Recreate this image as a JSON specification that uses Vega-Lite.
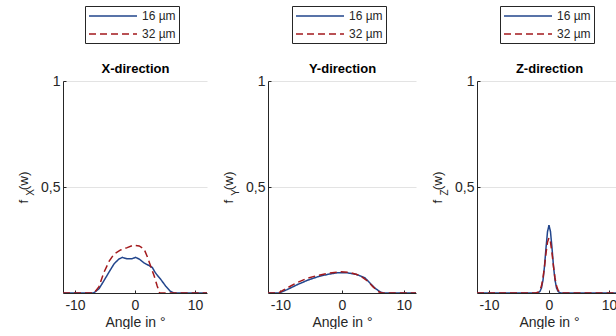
{
  "$schema": "https://vega.github.io/schema/vega-lite/v6.json",
  "padding": {"left": 16, "top": 5, "right": 0, "bottom": 0},
  "background": "white",
  "config": {
    "font": "Liberation Sans",
    "view": {"stroke": null},
    "axis": {"labelFont": "Liberation Sans", "titleFont": "Liberation Sans", "labelColor": "#262626", "titleColor": "#262626", "domainColor": "#262626", "tickColor": "#262626", "gridColor": "#e3e3e3", "labelFontSize": 14, "titleFontSize": 14, "titleFontWeight": "normal"},
    "legend": {"labelFont": "Liberation Sans", "labelFontSize": 12, "labelColor": "#262626"},
    "concat": {"spacing": 11}
  },
  "datasets": {
    "curves": [
      {"panel": "X", "series": "16 µm", "angle": -12, "value": 0},
      {"panel": "X", "series": "16 µm", "angle": -7, "value": 0},
      {"panel": "X", "series": "16 µm", "angle": -6.8, "value": 0.002},
      {"panel": "X", "series": "16 µm", "angle": -6, "value": 0.02},
      {"panel": "X", "series": "16 µm", "angle": -5.2, "value": 0.057},
      {"panel": "X", "series": "16 µm", "angle": -4.3, "value": 0.1},
      {"panel": "X", "series": "16 µm", "angle": -3.5, "value": 0.137},
      {"panel": "X", "series": "16 µm", "angle": -2.7, "value": 0.16},
      {"panel": "X", "series": "16 µm", "angle": -2.1, "value": 0.168},
      {"panel": "X", "series": "16 µm", "angle": -1.3, "value": 0.161},
      {"panel": "X", "series": "16 µm", "angle": -0.6, "value": 0.161},
      {"panel": "X", "series": "16 µm", "angle": 0.1, "value": 0.168},
      {"panel": "X", "series": "16 µm", "angle": 0.7, "value": 0.16},
      {"panel": "X", "series": "16 µm", "angle": 1.5, "value": 0.142},
      {"panel": "X", "series": "16 µm", "angle": 2.3, "value": 0.13},
      {"panel": "X", "series": "16 µm", "angle": 2.9, "value": 0.12},
      {"panel": "X", "series": "16 µm", "angle": 3.4, "value": 0.095},
      {"panel": "X", "series": "16 µm", "angle": 4.3, "value": 0.064},
      {"panel": "X", "series": "16 µm", "angle": 5.1, "value": 0.033},
      {"panel": "X", "series": "16 µm", "angle": 5.9, "value": 0.008},
      {"panel": "X", "series": "16 µm", "angle": 6.5, "value": 0},
      {"panel": "X", "series": "16 µm", "angle": 12, "value": 0},
      {"panel": "X", "series": "32 µm", "angle": -12, "value": 0},
      {"panel": "X", "series": "32 µm", "angle": -6.8, "value": 0},
      {"panel": "X", "series": "32 µm", "angle": -6, "value": 0.03},
      {"panel": "X", "series": "32 µm", "angle": -5.2, "value": 0.096},
      {"panel": "X", "series": "32 µm", "angle": -4.3, "value": 0.15},
      {"panel": "X", "series": "32 µm", "angle": -3.5, "value": 0.183},
      {"panel": "X", "series": "32 µm", "angle": -2.4, "value": 0.203},
      {"panel": "X", "series": "32 µm", "angle": -1.3, "value": 0.214},
      {"panel": "X", "series": "32 µm", "angle": -0.2, "value": 0.226},
      {"panel": "X", "series": "32 µm", "angle": 0.7, "value": 0.222},
      {"panel": "X", "series": "32 µm", "angle": 1.5, "value": 0.208},
      {"panel": "X", "series": "32 µm", "angle": 2, "value": 0.175},
      {"panel": "X", "series": "32 µm", "angle": 2.6, "value": 0.127},
      {"panel": "X", "series": "32 µm", "angle": 3.2, "value": 0.08},
      {"panel": "X", "series": "32 µm", "angle": 3.7, "value": 0.033},
      {"panel": "X", "series": "32 µm", "angle": 4.1, "value": 0},
      {"panel": "X", "series": "32 µm", "angle": 12, "value": 0},
      {"panel": "Y", "series": "16 µm", "angle": -12, "value": 0},
      {"panel": "Y", "series": "16 µm", "angle": -10.2, "value": 0},
      {"panel": "Y", "series": "16 µm", "angle": -8.9, "value": 0.016},
      {"panel": "Y", "series": "16 µm", "angle": -7.2, "value": 0.04},
      {"panel": "Y", "series": "16 µm", "angle": -5.6, "value": 0.06},
      {"panel": "Y", "series": "16 µm", "angle": -3.9, "value": 0.077},
      {"panel": "Y", "series": "16 µm", "angle": -2.3, "value": 0.088},
      {"panel": "Y", "series": "16 µm", "angle": -0.7, "value": 0.096},
      {"panel": "Y", "series": "16 µm", "angle": 0.7, "value": 0.096},
      {"panel": "Y", "series": "16 µm", "angle": 2.3, "value": 0.088},
      {"panel": "Y", "series": "16 µm", "angle": 3.7, "value": 0.072},
      {"panel": "Y", "series": "16 µm", "angle": 4.5, "value": 0.048},
      {"panel": "Y", "series": "16 µm", "angle": 5.3, "value": 0.024},
      {"panel": "Y", "series": "16 µm", "angle": 6.2, "value": 0.005},
      {"panel": "Y", "series": "16 µm", "angle": 6.7, "value": 0},
      {"panel": "Y", "series": "16 µm", "angle": 12, "value": 0},
      {"panel": "Y", "series": "32 µm", "angle": -12, "value": 0},
      {"panel": "Y", "series": "32 µm", "angle": -10.3, "value": 0},
      {"panel": "Y", "series": "32 µm", "angle": -8.9, "value": 0.024},
      {"panel": "Y", "series": "32 µm", "angle": -7.2, "value": 0.05},
      {"panel": "Y", "series": "32 µm", "angle": -5.6, "value": 0.07},
      {"panel": "Y", "series": "32 µm", "angle": -3.9, "value": 0.083},
      {"panel": "Y", "series": "32 µm", "angle": -2.3, "value": 0.093},
      {"panel": "Y", "series": "32 µm", "angle": -0.2, "value": 0.1},
      {"panel": "Y", "series": "32 µm", "angle": 1.3, "value": 0.097},
      {"panel": "Y", "series": "32 µm", "angle": 2.9, "value": 0.083},
      {"panel": "Y", "series": "32 µm", "angle": 4.2, "value": 0.055},
      {"panel": "Y", "series": "32 µm", "angle": 5.0, "value": 0.03},
      {"panel": "Y", "series": "32 µm", "angle": 5.8, "value": 0.008},
      {"panel": "Y", "series": "32 µm", "angle": 6.4, "value": 0},
      {"panel": "Y", "series": "32 µm", "angle": 12, "value": 0},
      {"panel": "Z", "series": "16 µm", "angle": -12, "value": 0},
      {"panel": "Z", "series": "16 µm", "angle": -2, "value": 0},
      {"panel": "Z", "series": "16 µm", "angle": -1.75, "value": 0.002},
      {"panel": "Z", "series": "16 µm", "angle": -1.5, "value": 0.008},
      {"panel": "Z", "series": "16 µm", "angle": -1.25, "value": 0.024},
      {"panel": "Z", "series": "16 µm", "angle": -1, "value": 0.061},
      {"panel": "Z", "series": "16 µm", "angle": -0.75, "value": 0.126},
      {"panel": "Z", "series": "16 µm", "angle": -0.5, "value": 0.212},
      {"panel": "Z", "series": "16 µm", "angle": -0.25, "value": 0.289},
      {"panel": "Z", "series": "16 µm", "angle": 0, "value": 0.32},
      {"panel": "Z", "series": "16 µm", "angle": 0.25, "value": 0.289},
      {"panel": "Z", "series": "16 µm", "angle": 0.5, "value": 0.212},
      {"panel": "Z", "series": "16 µm", "angle": 0.75, "value": 0.126},
      {"panel": "Z", "series": "16 µm", "angle": 1, "value": 0.061},
      {"panel": "Z", "series": "16 µm", "angle": 1.25, "value": 0.024},
      {"panel": "Z", "series": "16 µm", "angle": 1.5, "value": 0.008},
      {"panel": "Z", "series": "16 µm", "angle": 1.75, "value": 0.002},
      {"panel": "Z", "series": "16 µm", "angle": 2, "value": 0},
      {"panel": "Z", "series": "16 µm", "angle": 12, "value": 0},
      {"panel": "Z", "series": "32 µm", "angle": -12, "value": 0},
      {"panel": "Z", "series": "32 µm", "angle": -2.2, "value": 0},
      {"panel": "Z", "series": "32 µm", "angle": -1.75, "value": 0.005},
      {"panel": "Z", "series": "32 µm", "angle": -1.5, "value": 0.014},
      {"panel": "Z", "series": "32 µm", "angle": -1.25, "value": 0.034},
      {"panel": "Z", "series": "32 µm", "angle": -1, "value": 0.071},
      {"panel": "Z", "series": "32 µm", "angle": -0.75, "value": 0.125},
      {"panel": "Z", "series": "32 µm", "angle": -0.5, "value": 0.188},
      {"panel": "Z", "series": "32 µm", "angle": -0.25, "value": 0.24},
      {"panel": "Z", "series": "32 µm", "angle": 0, "value": 0.26},
      {"panel": "Z", "series": "32 µm", "angle": 0.25, "value": 0.24},
      {"panel": "Z", "series": "32 µm", "angle": 0.5, "value": 0.188},
      {"panel": "Z", "series": "32 µm", "angle": 0.75, "value": 0.125},
      {"panel": "Z", "series": "32 µm", "angle": 1, "value": 0.071},
      {"panel": "Z", "series": "32 µm", "angle": 1.25, "value": 0.034},
      {"panel": "Z", "series": "32 µm", "angle": 1.5, "value": 0.014},
      {"panel": "Z", "series": "32 µm", "angle": 1.75, "value": 0.005},
      {"panel": "Z", "series": "32 µm", "angle": 2.2, "value": 0},
      {"panel": "Z", "series": "32 µm", "angle": 12, "value": 0}
    ]
  },
  "data": {"name": "curves"},
  "resolve": {"legend": {"color": "independent", "strokeDash": "independent"}},
  "hconcat": [
    {
      "width": 144, "height": 212,
      "transform": [{"filter": "datum.panel == 'X'"}],
      "layer": [
        {
          "mark": {"type": "line", "strokeWidth": 1.5, "clip": true},
          "encoding": {
            "x": {"field": "angle", "type": "quantitative", "scale": {"domain": [-12, 12], "nice": false, "zero": false},
                  "axis": {"values": [-10, 0, 10], "labelExpr": "datum.value < 0 ? '-' + abs(datum.value) : '' + datum.value", "title": "Angle in °", "grid": false, "tickSize": -3, "labelPadding": 8, "titlePadding": 3}},
            "y": {"field": "value", "type": "quantitative", "scale": {"domain": [0, 1], "nice": false},
                  "axis": {"values": [0.5, 1], "labelExpr": "datum.value == 0.5 ? '0,5' : '1'", "tickSize": -3, "labelPadding": 6, "grid": true, "title": "f\u2002\u2009(w)", "titleFontSize": 13.5, "titleX": -33, "titleY": 106}},
            "color": {"field": "series", "type": "nominal", "scale": {"domain": ["16 µm", "32 µm"], "range": ["#22458c", "#a3191c"]},
                      "legend": {"orient": "none", "legendX": 22, "legendY": -75, "title": null, "direction": "vertical", "strokeColor": "#262626", "fillColor": "white", "padding": 3, "symbolType": "M-1,0H7", "symbolSize": 144, "symbolStrokeWidth": 1.5, "labelOffset": 40, "rowPadding": 5, "cornerRadius": 0}},
            "strokeDash": {"field": "series", "type": "nominal", "scale": {"domain": ["16 µm", "32 µm"], "range": [[1, 0], [7, 4]]}}
          }
        },
        {
          "mark": {"type": "point", "opacity": 0},
          "encoding": {
            "x": {"field": "angle", "type": "quantitative", "scale": {"domain": [-12, 12], "nice": false, "zero": false},
                  "axis": {"orient": "top", "title": "X-direction", "titleFontSize": 13, "titleFontWeight": "bold", "titleColor": "#000000", "labels": false, "ticks": false, "domain": false, "grid": false, "titlePadding": 6}},
            "y": {"field": "value", "type": "quantitative", "scale": {"domain": [0, 1], "nice": false},
                  "axis": {"orient": "left", "title": "X", "titleFontSize": 10, "labels": false, "ticks": false, "domain": false, "grid": false, "titleX": -28, "titleY": 111}}
          }
        }
      ],
      "resolve": {"axis": {"y": "independent", "x": "independent"}}
    },
    {
      "width": 148, "height": 212,
      "transform": [{"filter": "datum.panel == 'Y'"}],
      "layer": [
        {
          "mark": {"type": "line", "strokeWidth": 1.5, "clip": true},
          "encoding": {
            "x": {"field": "angle", "type": "quantitative", "scale": {"domain": [-12, 12], "nice": false, "zero": false},
                  "axis": {"values": [-10, 0, 10], "labelExpr": "datum.value < 0 ? '-' + abs(datum.value) : '' + datum.value", "title": "Angle in °", "grid": false, "tickSize": -3, "labelPadding": 8, "titlePadding": 3}},
            "y": {"field": "value", "type": "quantitative", "scale": {"domain": [0, 1], "nice": false},
                  "axis": {"values": [0.5, 1], "labelExpr": "datum.value == 0.5 ? '0,5' : '1'", "tickSize": -3, "labelPadding": 6, "grid": true, "title": "f\u2002\u2009(w)", "titleFontSize": 13.5, "titleX": -33, "titleY": 106}},
            "color": {"field": "series", "type": "nominal", "scale": {"domain": ["16 µm", "32 µm"], "range": ["#22458c", "#a3191c"]},
                      "legend": {"orient": "none", "legendX": 24, "legendY": -75, "title": null, "direction": "vertical", "strokeColor": "#262626", "fillColor": "white", "padding": 3, "symbolType": "M-1,0H7", "symbolSize": 144, "symbolStrokeWidth": 1.5, "labelOffset": 40, "rowPadding": 5, "cornerRadius": 0}},
            "strokeDash": {"field": "series", "type": "nominal", "scale": {"domain": ["16 µm", "32 µm"], "range": [[1, 0], [7, 4]]}}
          }
        },
        {
          "mark": {"type": "point", "opacity": 0},
          "encoding": {
            "x": {"field": "angle", "type": "quantitative", "scale": {"domain": [-12, 12], "nice": false, "zero": false},
                  "axis": {"orient": "top", "title": "Y-direction", "titleFontSize": 13, "titleFontWeight": "bold", "titleColor": "#000000", "labels": false, "ticks": false, "domain": false, "grid": false, "titlePadding": 6}},
            "y": {"field": "value", "type": "quantitative", "scale": {"domain": [0, 1], "nice": false},
                  "axis": {"orient": "left", "title": "Y", "titleFontSize": 10, "labels": false, "ticks": false, "domain": false, "grid": false, "titleX": -28, "titleY": 111}}
          }
        }
      ],
      "resolve": {"axis": {"y": "independent", "x": "independent"}}
    },
    {
      "width": 144, "height": 212,
      "transform": [{"filter": "datum.panel == 'Z'"}],
      "layer": [
        {
          "mark": {"type": "line", "strokeWidth": 1.5, "clip": true},
          "encoding": {
            "x": {"field": "angle", "type": "quantitative", "scale": {"domain": [-12, 12], "nice": false, "zero": false},
                  "axis": {"values": [-10, 0, 10], "labelExpr": "datum.value < 0 ? '-' + abs(datum.value) : '' + datum.value", "title": "Angle in °", "grid": false, "tickSize": -3, "labelPadding": 8, "titlePadding": 3}},
            "y": {"field": "value", "type": "quantitative", "scale": {"domain": [0, 1], "nice": false},
                  "axis": {"values": [0.5, 1], "labelExpr": "datum.value == 0.5 ? '0,5' : '1'", "tickSize": -3, "labelPadding": 6, "grid": true, "title": "f\u2002\u2009(w)", "titleFontSize": 13.5, "titleX": -33, "titleY": 106}},
            "color": {"field": "series", "type": "nominal", "scale": {"domain": ["16 µm", "32 µm"], "range": ["#22458c", "#a3191c"]},
                      "legend": {"orient": "none", "legendX": 23, "legendY": -75, "title": null, "direction": "vertical", "strokeColor": "#262626", "fillColor": "white", "padding": 3, "symbolType": "M-1,0H7", "symbolSize": 144, "symbolStrokeWidth": 1.5, "labelOffset": 40, "rowPadding": 5, "cornerRadius": 0}},
            "strokeDash": {"field": "series", "type": "nominal", "scale": {"domain": ["16 µm", "32 µm"], "range": [[1, 0], [7, 4]]}}
          }
        },
        {
          "mark": {"type": "point", "opacity": 0},
          "encoding": {
            "x": {"field": "angle", "type": "quantitative", "scale": {"domain": [-12, 12], "nice": false, "zero": false},
                  "axis": {"orient": "top", "title": "Z-direction", "titleFontSize": 13, "titleFontWeight": "bold", "titleColor": "#000000", "labels": false, "ticks": false, "domain": false, "grid": false, "titlePadding": 6}},
            "y": {"field": "value", "type": "quantitative", "scale": {"domain": [0, 1], "nice": false},
                  "axis": {"orient": "left", "title": "Z", "titleFontSize": 10, "labels": false, "ticks": false, "domain": false, "grid": false, "titleX": -28, "titleY": 111}}
          }
        }
      ],
      "resolve": {"axis": {"y": "independent", "x": "independent"}}
    }
  ]
}
